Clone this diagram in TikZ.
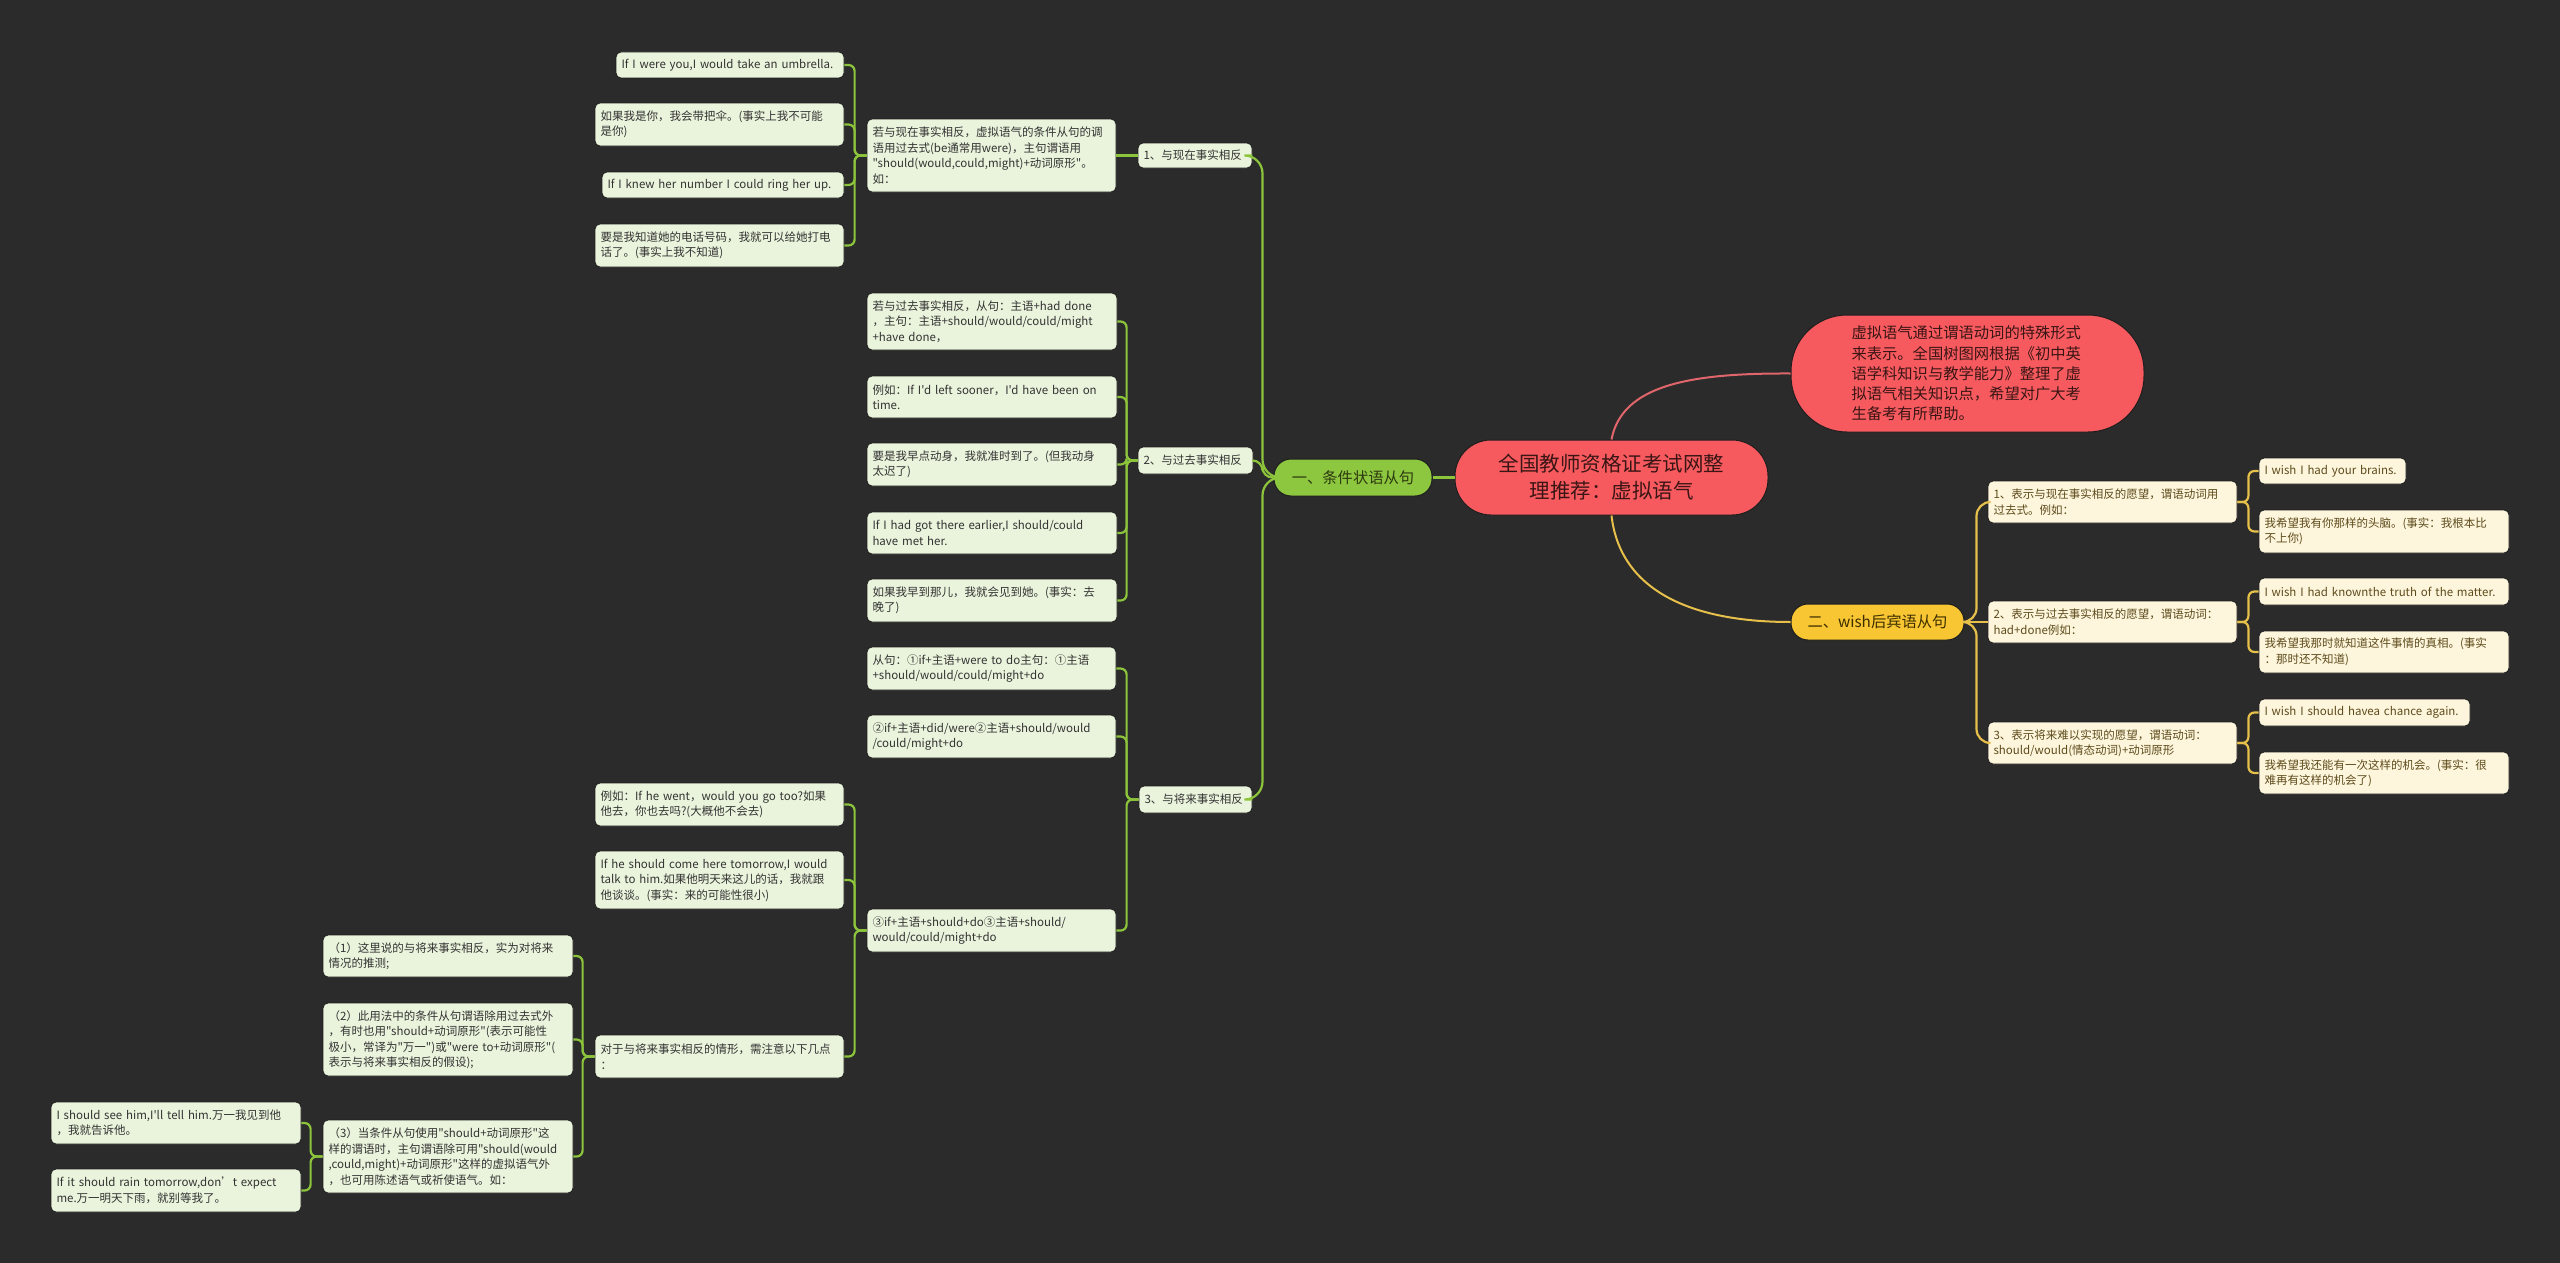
\documentclass[tikz,border=0pt]{standalone}
\usepackage{fontspec}
\setmainfont{Noto Sans CJK SC}[Ligatures=TeXOff]
\definecolor{bg}{HTML}{2B2B2B}
\definecolor{gline}{HTML}{8CC43C}
\definecolor{gleaf}{HTML}{EAF4DC}
\definecolor{gtext}{HTML}{333333}
\definecolor{gmain}{HTML}{8DC63F}
\definecolor{gmaintext}{HTML}{2C3A10}
\definecolor{rmain}{HTML}{F65A5E}
\definecolor{rline}{HTML}{E0666B}
\definecolor{rtext}{HTML}{3A1515}
\definecolor{ymain}{HTML}{F8C632}
\definecolor{ytextmain}{HTML}{3D2E00}
\definecolor{yleaf}{HTML}{FDF6DC}
\definecolor{ytext}{HTML}{5E4B1C}
\definecolor{yline}{HTML}{E6C04A}
\definecolor{boxedge}{HTML}{1E1E1E}
\newcommand\placebox[7]{%
  \pgfmathsetmacro\bxw{#5-#3}%
  \pgfmathsetmacro\bxtw{#5-#3-11}%
  \pgfmathsetmacro\bxh{#6-#4}%
  \pgfmathsetmacro\bxcx{(#3+#5)/2}%
  \pgfmathsetmacro\bxcy{(#4+#6)/2}%
  \node[#2, minimum width=\bxw pt, minimum height=\bxh pt, text width=\bxtw pt] (#1) at (\bxcx,\bxcy) {#7};%
}
\newcommand\nobreaklines{\rightskip=0pt plus 1fil minus 80pt\relax\linepenalty=3000\relax\hyphenpenalty=10000\relax\exhyphenpenalty=10000\relax}
\begin{document}
\begin{tikzpicture}[x=1pt,y=-1pt,
  gleafbox/.style={fill=gleaf, draw=boxedge, line width=0.8pt, rounded corners=5pt, text=gtext,
    font=\fontsize{11.5}{15.5}\selectfont, align=left, inner xsep=5.5pt, inner ysep=0pt,
    execute at begin node=\nobreaklines},
  yleafbox/.style={fill=yleaf, draw=boxedge, line width=0.8pt, rounded corners=5pt, text=ytext,
    font=\fontsize{11.5}{15.5}\selectfont, align=left, inner xsep=5.5pt, inner ysep=0pt,
    execute at begin node=\nobreaklines},
  gconn/.style={draw=gline, line width=2.2pt, rounded corners=6pt},
  yconn/.style={draw=yline, line width=2.2pt, rounded corners=6pt},
  cnode/.style={fill=rmain, draw=boxedge, line width=1pt, rounded corners=36pt, text=rtext,
    font=\fontsize{20.5}{27}\selectfont, align=center, inner xsep=5.5pt, inner ysep=0pt},
  gmainbox/.style={fill=gmain, draw=boxedge, line width=1pt, rounded corners=17pt, text=gmaintext,
    font=\fontsize{15.3}{20}\selectfont, align=center, inner xsep=5.5pt, inner ysep=0pt},
  ymainbox/.style={fill=ymain, draw=boxedge, line width=1pt, rounded corners=17pt, text=ytextmain,
    font=\fontsize{15.3}{20}\selectfont, align=center, inner xsep=5.5pt, inner ysep=0pt},
  dnode/.style={fill=rmain, draw=boxedge, line width=1pt, rounded corners=56pt, text=rtext,
    font=\fontsize{15.3}{20.3}\selectfont, align=left, inner ysep=0pt}
]
\fill[bg] (0,0) rectangle (2560,1263);
\useasboundingbox (0,0) rectangle (2560,1263);

% ---------- main nodes ----------
\placebox{center}{cnode}{1455}{440}{1768}{515}{全国教师资格证考试网整\\理推荐：虚拟语气}
\node[dnode, minimum width=353pt, minimum height=117pt, text width=232pt, inner xsep=60.5pt] (desc) at (1967.5,373.5)
  {虚拟语气通过谓语动词的特殊形式\\来表示。全国树图网根据《初中英\\语学科知识与教学能力》整理了虚\\拟语气相关知识点，希望对广大考\\生备考有所帮助。};
\placebox{tiao}{gmainbox}{1274}{459}{1432}{496}{一、条件状语从句}
\placebox{wish}{ymainbox}{1791}{604}{1964}{640}{二、wish后宾语从句}

% ---------- section 1 ----------
\placebox{s1}{gleafbox}{1138}{143}{1252}{168}{1、与现在事实相反}
\placebox{m1}{gleafbox}{867}{119}{1116}{192}{若与现在事实相反，虚拟语气的条件从句的调\\语用过去式(be通常用were)，主句谓语用\\"should(would,could,might)+动词原形"。\\如：}
\placebox{l1a}{gleafbox}{616}{52}{844}{78}{If I were you,I would take an umbrella.}
\placebox{l1b}{gleafbox}{595}{103}{844}{146}{如果我是你，我会带把伞。(事实上我不可能\\是你)}
\placebox{l1c}{gleafbox}{602}{172}{844}{198}{If I knew her number I could ring her up.}
\placebox{l1d}{gleafbox}{595}{224}{844}{267}{要是我知道她的电话号码，我就可以给她打电\\话了。(事实上我不知道)}

% ---------- section 2 ----------
\placebox{s2}{gleafbox}{1138}{447}{1253}{474}{2、与过去事实相反}
\placebox{m2a}{gleafbox}{867}{293}{1117}{350}{若与过去事实相反，从句：主语+had done\\，主句：主语+should/would/could/might\\+have done，}
\placebox{m2b}{gleafbox}{867}{376}{1117}{418}{例如：If I'd left sooner，I'd have been on\\time.}
\placebox{m2c}{gleafbox}{867}{443}{1117}{486}{要是我早点动身，我就准时到了。(但我动身\\太迟了)}
\placebox{m2d}{gleafbox}{867}{512}{1117}{554}{If I had got there earlier,I should/could\\have met her.}
\placebox{m2e}{gleafbox}{867}{579}{1117}{622}{如果我早到那儿，我就会见到她。(事实：去\\晚了)}

% ---------- section 3 ----------
\placebox{s3}{gleafbox}{1139}{786}{1252}{813}{3、与将来事实相反}
\placebox{m3a}{gleafbox}{867}{647}{1116}{690}{从句：①if+主语+were to do主句：①主语\\+should/would/could/might+do}
\placebox{m3b}{gleafbox}{867}{715}{1116}{758}{②if+主语+did/were②主语+should/would\\/could/might+do}
\placebox{m3c}{gleafbox}{867}{909}{1116}{952}{③if+主语+should+do③主语+should/\\would/could/might+do}
\placebox{l3a}{gleafbox}{595}{783}{844}{826}{例如：If he went，would you go too?如果\\他去，你也去吗?(大概他不会去)}
\placebox{l3b}{gleafbox}{595}{851}{844}{909}{If he should come here tomorrow,I would\\ talk to him.如果他明天来这儿的话，我就跟\\他谈谈。(事实：来的可能性很小)}
\placebox{m3d}{gleafbox}{595}{1035}{844}{1078}{对于与将来事实相反的情形，需注意以下几点\\：}
\placebox{p1}{gleafbox}{323}{935}{573}{977}{（1）这里说的与将来事实相反，实为对将来\\情况的推测;}
\placebox{p2}{gleafbox}{323}{1003}{573}{1076}{（2）此用法中的条件从句谓语除用过去式外\\，有时也用"should+动词原形"(表示可能性\\极小，常译为"万一")或"were to+动词原形"(\\表示与将来事实相反的假设);}
\placebox{p3}{gleafbox}{323}{1120}{573}{1193}{（3）当条件从句使用"should+动词原形"这\\样的谓语时，主句谓语除可用"should(would\\,could,might)+动词原形"这样的虚拟语气外\\，也可用陈述语气或祈使语气。如：}
\placebox{q1}{gleafbox}{51}{1102}{301}{1144}{I should see him,I'll tell him.万一我见到他\\，我就告诉他。}
\placebox{q2}{gleafbox}{51}{1169}{301}{1212}{If it should rain tomorrow,don’t expect\\me.万一明天下雨，就别等我了。}

% ---------- wish section ----------
\placebox{w1}{yleafbox}{1988}{481}{2237}{523}{1、表示与现在事实相反的愿望，谓语动词用\\过去式。例如：}
\placebox{w1a}{yleafbox}{2259}{458}{2406}{484}{I wish I had your brains.}
\placebox{w1b}{yleafbox}{2259}{510}{2509}{553}{我希望我有你那样的头脑。(事实：我根本比\\不上你)}
\placebox{w2}{yleafbox}{1988}{601}{2237}{643}{2、表示与过去事实相反的愿望，谓语动词：\\had+done例如：}
\placebox{w2a}{yleafbox}{2259}{578}{2509}{605}{I wish I had knownthe truth of the matter.}
\placebox{w2b}{yleafbox}{2259}{631}{2509}{673}{我希望我那时就知道这件事情的真相。(事实\\：那时还不知道)}
\placebox{w3}{yleafbox}{1988}{722}{2237}{764}{3、表示将来难以实现的愿望，谓语动词：\\should/would(情态动词)+动词原形}
\placebox{w3a}{yleafbox}{2259}{699}{2470}{726}{I wish I should havea chance again.}
\placebox{w3b}{yleafbox}{2259}{752}{2509}{794}{我希望我还能有一次这样的机会。(事实：很\\难再有这样的机会了)}

% ---------- connectors ----------
\draw[draw=rline, line width=2pt] (center.north) .. controls (1622,385) and (1690,373) .. (desc.west);
\draw[draw=yline, line width=2pt] (center.south) .. controls (1620,590) and (1690,622) .. (wish.west);
\draw[gconn] (center.west) -- (tiao.east);

\draw[gconn, rounded corners=18pt] (tiao.west) -- ++(-11,0) |- (s1.east);
\draw[gconn, rounded corners=10pt] (tiao.west) -- ++(-11,0) |- (s2.east);
\draw[gconn, rounded corners=18pt] (tiao.west) -- ++(-11,0) |- (s3.east);

\draw[gconn] (s1.west) -- (m1.east);
\foreach \c in {l1a,l1b,l1c,l1d} \draw[gconn] (m1.west) -- ++(-12,0) |- (\c.east);
\foreach \c in {m2a,m2b,m2c,m2d,m2e} \draw[gconn] (s2.west) -- ++(-11,0) |- (\c.east);
\foreach \c in {m3a,m3b,m3c} \draw[gconn] (s3.west) -- ++(-12,0) |- (\c.east);
\foreach \c in {l3a,l3b,m3d} \draw[gconn] (m3c.west) -- ++(-12,0) |- (\c.east);
\foreach \c in {p1,p2,p3} \draw[gconn] (m3d.west) -- ++(-12,0) |- (\c.east);
\foreach \c in {q1,q2} \draw[gconn] (p3.west) -- ++(-12,0) |- (\c.east);

\draw[yconn, rounded corners=14pt] (wish.east) -- ++(12,0) |- (w1.west);
\draw[yconn] (wish.east) -- (w2.west);
\draw[yconn, rounded corners=14pt] (wish.east) -- ++(12,0) |- (w3.west);
\foreach \c in {w1a,w1b} \draw[yconn] (w1.east) -- ++(11,0) |- (\c.west);
\foreach \c in {w2a,w2b} \draw[yconn] (w2.east) -- ++(11,0) |- (\c.west);
\foreach \c in {w3a,w3b} \draw[yconn] (w3.east) -- ++(11,0) |- (\c.west);
\end{tikzpicture}
\end{document}
